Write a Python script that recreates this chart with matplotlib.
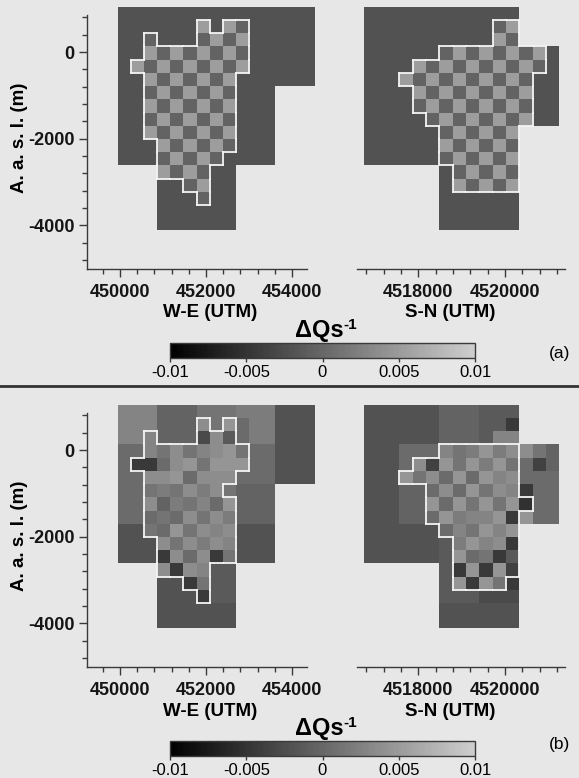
import numpy as np
import matplotlib

matplotlib.use("Agg")
import matplotlib.pyplot as plt
from matplotlib.collections import LineCollection
from matplotlib.colors import LinearSegmentedColormap
from matplotlib.lines import Line2D
from matplotlib.ticker import FixedLocator, StrMethodFormatter

plt.rcParams["font.family"] = ["Liberation Sans", "DejaVu Sans"]
plt.rcParams["axes.unicode_minus"] = False

BG = "#e7e7e7"
AXIS = "#3a3a3a"
OUTLINE = "#f4f4f4"
CMAP = LinearSegmentedColormap.from_list("dq_gray", ["#000000", "#cecece"])

# dQ/s colour scale
DQ_MIN, DQ_MAX = -0.01, 0.01
CB_TICKS = [-0.01, -0.005, 0.0, 0.005, 0.01]
CB_LABELS = ["-0.01", "-0.005", "0", "0.005", "0.01"]

# shade code: A = -0.01 ... Z = +0.01 ; lowercase = fine (outlined) cell, "." = no cell
SHADES = "ABCDEFGHIJKLMNOPQRSTUVWXYZ"

# inversion cell edges (m)
WE_EDGES = [449950, 450255, 450560, 450865, 451170, 451475, 451780, 452085,
            452390, 452695, 453000, 453305, 453610, 453915, 454220, 454525]
SN_EDGES = [4516750, 4517563, 4517870, 4518177, 4518484, 4518791, 4519098,
            4519405, 4519712, 4520019, 4520326, 4520633, 4520940, 4521247]
DEPTH_EDGES = [1045, 740, 435, 130, -175, -480, -785, -1090, -1395, -1700,
               -2005, -2310, -2615, -2920, -3225, -3530, -3820, -4110]

# (a) synthetic checkerboard input
WE_A = [
    "KKKKKKKKKKKKKKK",
    "KKKKKKtKtmKKKKK",
    "KKmKKKmtmtKKKKK",
    "KKtmtmtmtmKKKKK",
    "KtmtmtmtmtKKKKK",
    "KKtmtmtmtKKKKKK",
    "KKmtmtmtmKKK...",
    "KKtmtmtmtKKK...",
    "KKmtmtmtmKKK...",
    "KKtmtmtmtKKK...",
    "KKKtmtmtmKKK...",
    "KKKmtmtmKKKK...",
    "...tmtmKK......",
    "...KKmtKK......",
    "...KKKmKK......",
    "...KKKKKK......",
    "...KKKKKK......",
]
SN_A = [
    "KKKKKKKKKK...",
    "KKKKKKKKmt...",
    "KKKKKKKKtm...",
    "KKKKmtmtmtmtK",
    "KKtmtmtmtmtmK",
    "KtmtmtmtmtmKK",
    "KKtmtmtmtmtKK",
    "KKmtmtmtmtmKK",
    "KKKmtmtmtmtKK",
    "KKKKmtmtmt...",
    "KKKKtmtmtm...",
    "KKKKmtmtmt...",
    "....Kmtmtm...",
    "....Ktmtmt...",
    "....KKKKKK...",
    "....KKKKKK...",
    "....KKKKKK...",
]

# (b) recovered model
WE_B = [
    "QQQMMMOOOPPPKKK",
    "QQQMMMrOsNPPKKK",
    "QQqMMMjrlNPPKKK",
    "NNqoroqrsoNNKKK",
    "NhhnrsosssNNKKK",
    "NNrrsnrrrNNNKKK",
    "NNoporprOMMM...",
    "NNrmpoqnsMMM...",
    "NNnonrorpMMM...",
    "KKonsorqrKKK...",
    "KKKrorprqKKK...",
    "KKKhrnrhoKKK...",
    "...rhrqLL......",
    "...KKhoLL......",
    "...KKKhLL......",
    "...KKKKKK......",
    "...KKKKKK......",
]
SN_B = [
    "KKKKMMMLLL...",
    "KKKKMMMLLH...",
    "KKKKMMMLQQ...",
    "KNNNqopsprROM",
    "KNrisospsoNIM",
    "KsornsnsqrNNN",
    "KMMnrnsorqHNN",
    "KMMsnsososgNN",
    "KMMnspqqshSNN",
    "KKKKnqosqs...",
    "KKKKLpsqrh...",
    "KKKKLsnohl...",
    "....Lhshsi...",
    "....LshsoH...",
    "....LLLJJJ...",
    "....KKKKKK...",
    "....KKKKKK...",
]

WE_MAJOR = [450000, 452000, 454000]
WE_MINOR = np.arange(449600, 454001, 400)
SN_MAJOR = [4518000, 4520000]
SN_MINOR = np.arange(4516800, 4521201, 400)
Z_MAJOR = [-4000, -2000, 0]
Z_MINOR = np.arange(-4800, 801, 400)

W, H = 579, 778


def px_axes(fig, left, top, width, height):
    return fig.add_axes([left / W, 1 - (top + height) / H, width / W, height / H])


def draw_model(ax, xe, ye, rows):
    codes = np.array([list(r) for r in rows])
    vals = np.full(codes.shape, np.nan)
    for ch in set(codes.ravel()):
        if ch == ".":
            continue
        k = SHADES.index(ch.upper())
        vals[codes == ch] = DQ_MIN + (DQ_MAX - DQ_MIN) * k / (len(SHADES) - 1)
    mesh = ax.pcolormesh(xe, ye, np.ma.masked_invalid(vals), cmap=CMAP,
                         vmin=DQ_MIN, vmax=DQ_MAX, shading="flat", edgecolors="none")

    # white outline round the fine-resolution cells
    fine = np.char.islower(codes)
    pad = np.pad(fine, 1)
    segs = []
    for r in range(fine.shape[0]):
        for c in range(fine.shape[1]):
            if not fine[r, c]:
                continue
            x0, x1, y0, y1 = xe[c], xe[c + 1], ye[r], ye[r + 1]
            if not pad[r, c + 1]:
                segs.append([(x0, y0), (x1, y0)])
            if not pad[r + 2, c + 1]:
                segs.append([(x0, y1), (x1, y1)])
            if not pad[r + 1, c]:
                segs.append([(x0, y0), (x0, y1)])
            if not pad[r + 1, c + 2]:
                segs.append([(x1, y0), (x1, y1)])
    ax.add_collection(LineCollection(segs, colors=OUTLINE, linewidths=1.3,
                                     capstyle="projecting"))
    return mesh


def style_ticks(ax):
    ax.set_facecolor("none")
    ax.tick_params(which="both", direction="out", color=AXIS, width=1,
                   labelsize=13, labelcolor="#151515")
    ax.tick_params(axis="x", pad=5)
    ax.tick_params(axis="y", pad=3)
    ax.tick_params(which="major", length=6)
    ax.tick_params(which="minor", length=3.5)
    for lab in ax.get_xticklabels() + ax.get_yticklabels():
        lab.set_fontweight("bold")
    for s in ("top", "right"):
        ax.spines[s].set_visible(False)
    for s in ("left", "bottom"):
        ax.spines[s].set_color(AXIS)
        ax.spines[s].set_linewidth(1)


fig = plt.figure(figsize=(W / 100, H / 100), dpi=100, facecolor=BG)

for dy, tag, we_rows, sn_rows in [(0.0, "(a)", WE_A, SN_A), (398.0, "(b)", WE_B, SN_B)]:
    # W-E section
    ax = px_axes(fig, 87.3, 4.5 + dy, 231.0, 264.1)
    mesh = draw_model(ax, WE_EDGES, DEPTH_EDGES, we_rows)
    ax.set_xlim(449240, 454612)
    ax.set_ylim(-5000, 1100)
    ax.xaxis.set_major_locator(FixedLocator(WE_MAJOR))
    ax.xaxis.set_minor_locator(FixedLocator(WE_MINOR))
    ax.yaxis.set_major_locator(FixedLocator(Z_MAJOR))
    ax.yaxis.set_minor_locator(FixedLocator(Z_MINOR))
    ax.xaxis.set_major_formatter(StrMethodFormatter("{x:.0f}"))
    ax.yaxis.set_major_formatter(StrMethodFormatter("{x:.0f}"))
    style_ticks(ax)
    ax.spines["left"].set_bounds(-5000, 860)
    ax.spines["bottom"].set_bounds(449240, 454340)

    # S-N section
    ax2 = px_axes(fig, 357.3, 4.5 + dy, 209.4, 264.1)
    draw_model(ax2, SN_EDGES, DEPTH_EDGES, sn_rows)
    ax2.set_xlim(4516590, 4521420)
    ax2.set_ylim(-5000, 1100)
    ax2.xaxis.set_major_locator(FixedLocator(SN_MAJOR))
    ax2.xaxis.set_minor_locator(FixedLocator(SN_MINOR))
    ax2.xaxis.set_major_formatter(StrMethodFormatter("{x:.0f}"))
    ax2.set_yticks([])
    style_ticks(ax2)
    ax2.spines["left"].set_visible(False)
    ax2.spines["bottom"].set_bounds(4516590, 4521370)

    fig.text(19 / W, 1 - (137.5 + dy) / H, "A. a. s. l. (m)", rotation=90,
             ha="center", va="center", fontsize=13.5, fontweight="bold")
    fig.text(210.5 / W, 1 - (313 + dy) / H, "W-E (UTM)", ha="center", va="center",
             fontsize=13.5, fontweight="bold")
    fig.text(450 / W, 1 - (313 + dy) / H, "S-N (UTM)", ha="center", va="center",
             fontsize=13.5, fontweight="bold")

    # colour bar
    cax = px_axes(fig, 170, 343.3 + dy, 305, 14.4)
    cb = fig.colorbar(mesh, cax=cax, orientation="horizontal")
    cb.set_ticks(CB_TICKS, labels=CB_LABELS)
    cb.outline.set_edgecolor(AXIS)
    cb.outline.set_linewidth(1)
    cax.tick_params(length=3, width=1, color=AXIS, labelsize=12, pad=2)
    fig.text(295 / W, 1 - (337 + dy) / H, "\u0394Qs", ha="left", va="baseline",
             fontsize=17, fontweight="bold")
    fig.text(343 / W, 1 - (329 + dy) / H, "-1", ha="left", va="baseline",
             fontsize=11, fontweight="bold")
    fig.text(560 / W, 1 - (354 + dy * 0.98) / H, tag, ha="center", va="center",
             fontsize=12.5)

fig.add_artist(Line2D([0, 1], [1 - 386 / H, 1 - 386 / H], color="#333333", lw=2))

fig.savefig("out.png", dpi=100, facecolor=BG)
